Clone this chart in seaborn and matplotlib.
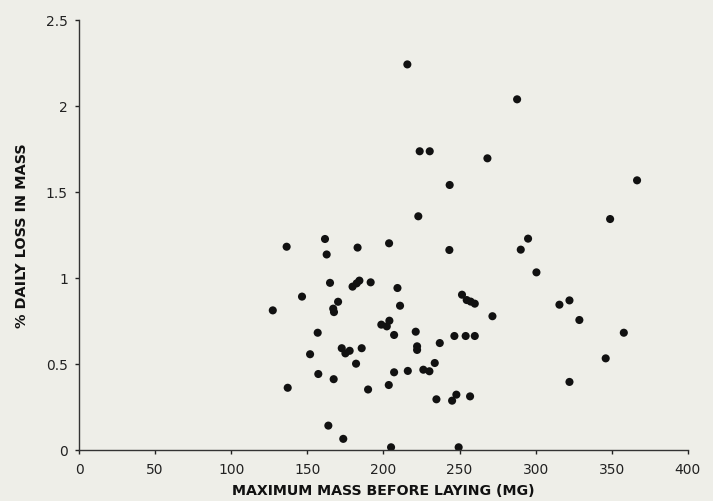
import pandas as pd
import matplotlib
matplotlib.use('Agg')
import matplotlib.pyplot as plt
import seaborn as sns

# values
max_mass = [127.3, 136.4, 137.1, 146.5, 151.8, 156.8, 157.2, 161.6, 162.7, 163.8,
            164.9, 167.5, 167.0, 167.3, 170.2, 172.6, 173.6, 175.0, 177.8, 179.7,
            182.4, 184.2, 182.0, 183.0, 185.7, 189.9, 191.6, 198.6, 202.2, 203.9,
            203.7, 203.5, 205.0, 207.0, 207.0, 209.2, 210.9, 215.7, 216.0, 221.2,
            222.1, 222.1, 222.9, 223.8, 226.2, 230.2, 230.4, 233.7, 234.8, 237.0,
            243.5, 243.3, 245.1, 246.6, 247.9, 249.4, 251.6, 254.0, 254.7, 256.9,
            257.3, 260.0, 260.0, 268.3, 271.6, 287.8, 290.2, 295.0, 300.5, 315.6,
            322.2, 322.2, 328.7, 346.0, 348.9, 357.9, 366.6]
daily_loss = [0.81, 1.18, 0.36, 0.89, 0.555, 0.68, 0.44, 1.225, 1.135, 0.14,
              0.97, 0.80, 0.82, 0.41, 0.86, 0.59, 0.063, 0.56, 0.575, 0.948,
              0.967, 0.983, 0.50, 1.175, 0.59, 0.35, 0.973, 0.727, 0.717, 0.75,
              1.20, 0.376, 0.014, 0.45, 0.667, 0.94, 0.837, 2.24, 0.458, 0.686,
              0.601, 0.58, 1.357, 1.735, 0.465, 0.456, 1.735, 0.504, 0.293, 0.62,
              1.539, 1.161, 0.285, 0.661, 0.32, 0.014, 0.901, 0.661, 0.87, 0.31,
              0.861, 0.849, 0.661, 1.694, 0.776, 2.037, 1.163, 1.227, 1.031, 0.843,
              0.868, 0.394, 0.754, 0.531, 1.341, 0.68, 1.566]

x_ticks = [0, 50, 100, 150, 200, 250, 300, 350, 400]
y_ticks = [0, 0.5, 1, 1.5, 2, 2.5]
y_tick_labels = ['0', '0.5', '1', '1.5', '2', '2.5']

df = pd.DataFrame({'mass': max_mass, 'loss': daily_loss})

sns.set_style('ticks')
plt.rcParams['font.family'] = ['DejaVu Sans']
bg = '#eeeee8'

fig = plt.figure(figsize=(7.13, 5.02), dpi=100, facecolor=bg)
ax = fig.add_axes([0.1108, 0.1022, 0.854, 0.8566], facecolor=bg)

sns.scatterplot(data=df, x='mass', y='loss', ax=ax, color='#111111',
                s=34, edgecolor='none')

ax.set_xlim(0, 400)
ax.set_ylim(0, 2.5)
ax.set_xticks(x_ticks)
ax.set_yticks(y_ticks)
ax.set_yticklabels(y_tick_labels)
ax.tick_params(axis='both', direction='out', length=3, width=1,
               labelsize=10, colors='#222222', pad=5)
ax.tick_params(axis='x', pad=6)

for side in ['top', 'right']:
    ax.spines[side].set_visible(False)
for side in ['left', 'bottom']:
    ax.spines[side].set_color('#333333')
    ax.spines[side].set_linewidth(1)

ax.set_xlabel('MAXIMUM MASS BEFORE LAYING (MG)', fontsize=10.2,
              fontweight='bold', color='#111111', labelpad=5)
ax.set_ylabel('% DAILY LOSS IN MASS', fontsize=10.4,
              fontweight='bold', color='#111111', labelpad=12)

plt.savefig('out.png', dpi=100, facecolor=bg)
